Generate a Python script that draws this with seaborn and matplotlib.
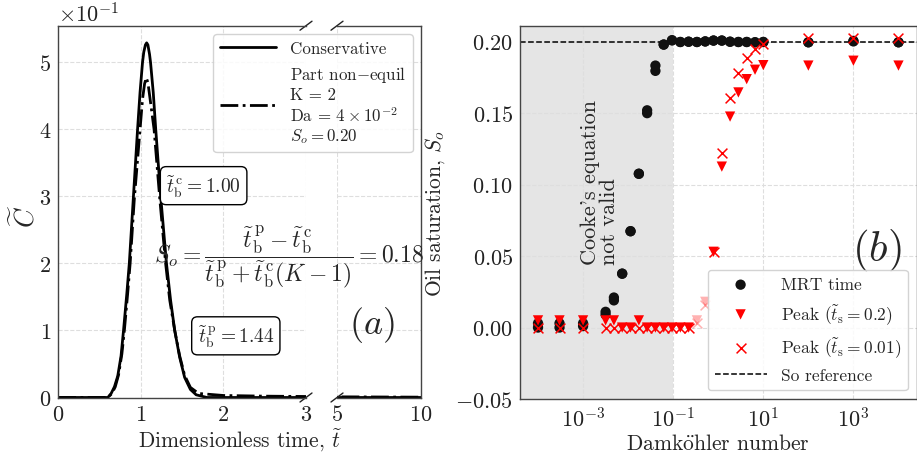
import numpy as np
import pandas as pd
import matplotlib
matplotlib.use("Agg")
import matplotlib.pyplot as plt
import seaborn as sns

# ---------------- panel (a) data ----------------
t_cons = [0.0, 0.60, 0.64, 0.68, 0.72, 0.76, 0.79, 0.83, 0.86, 0.91, 0.96, 0.99, 1.02, 1.035,
          1.055, 1.07, 1.085, 1.105, 1.117, 1.15, 1.18, 1.24, 1.31, 1.36, 1.41, 1.47, 1.53,
          1.60, 1.67, 1.80, 3.0, 5.0, 10.0]
c_cons = [0.0, 0.0, 0.006, 0.016, 0.032, 0.062, 0.100, 0.155, 0.200, 0.300, 0.400, 0.455,
          0.500, 0.515, 0.526, 0.529, 0.526, 0.512, 0.500, 0.455, 0.400, 0.300, 0.200, 0.145,
          0.100, 0.060, 0.030, 0.012, 0.004, 0.0, 0.0, 0.0, 0.0]

t_neq = [0.0, 0.60, 0.65, 0.69, 0.73, 0.77, 0.80, 0.84, 0.87, 0.92, 0.97, 0.99, 1.02, 1.045,
         1.065, 1.085, 1.11, 1.16, 1.23, 1.30, 1.35, 1.41, 1.47, 1.53, 1.60, 1.70, 2.00,
         2.50, 3.00, 5.00, 10.0]
c_neq = [0.0, 0.0, 0.006, 0.016, 0.034, 0.065, 0.100, 0.155, 0.200, 0.295, 0.370, 0.400,
         0.445, 0.468, 0.477, 0.470, 0.447, 0.400, 0.295, 0.200, 0.145, 0.100, 0.062, 0.033,
         0.015, 0.006, 0.003, 0.002, 0.0015, 0.001, 0.0005]

tb_c = 1.00
tb_p = 1.44
So_est = 0.18

# ---------------- panel (b) data ----------------
da = [1e-4, 3e-4, 1e-3, 0.00316, 0.00483, 0.00738, 0.0113, 0.0173, 0.0264, 0.0403, 0.0616,
      0.0942, 0.144, 0.220, 0.336, 0.514, 0.785, 1.20, 1.83, 2.80, 4.28, 6.55, 10.0,
      100.0, 1000.0, 10000.0]
mrt_a = [0.000, 0.000, 0.001, 0.009, 0.019, 0.0377, 0.0674, 0.1076, 0.150, 0.1796, 0.198,
         0.2010, 0.1998, 0.2000, 0.1998, 0.2002, 0.2008, 0.2008, 0.2000, 0.1998, 0.1998,
         0.1996, 0.1998, 0.1996, 0.2002, 0.1996]
mrt_b = [0.003, 0.003, 0.003, 0.011, 0.021, 0.0377, 0.0674, 0.1076, 0.152, 0.1833, 0.198,
         0.2010, 0.1998, 0.2000, 0.1998, 0.2002, 0.2008, 0.2008, 0.2000, 0.1998, 0.1998,
         0.1996, 0.1998, 0.1996, 0.2006, 0.1996]
peak_02 = [0.005, 0.005, 0.005, 0.005, 0.005, 0.0, 0.0, 0.005, 0.0, 0.0, 0.0, 0.0, 0.0, 0.0,
           0.005, 0.018, 0.053, 0.1126, 0.1476, 0.1645, 0.1738, 0.1804, 0.1836, 0.1833,
           0.1867, 0.1833]
peak_001 = [0.0, 0.0, 0.0, 0.0, 0.0, 0.0, 0.0, 0.0, 0.0, 0.0, 0.0, 0.0, 0.0, 0.0, 0.003,
            0.016, 0.053, 0.1219, 0.1603, 0.178, 0.1883, 0.1949, 0.1984, 0.2023, 0.2023,
            0.2023]
faded = [False] * 14 + [True, True] + [False] * 10
so_ref = 0.20
cooke_limit = 0.1
da_ticks = [1e-3, 1e-1, 1e1, 1e3]

# ---------------- style ----------------
sns.set_theme(style="whitegrid")
plt.rcParams.update({
    "font.family": ["cmr10", "DejaVu Serif"],
    "mathtext.fontset": "cm",
    "axes.formatter.use_mathtext": True,
    "axes.unicode_minus": True,
    "axes.edgecolor": "#444444",
    "axes.linewidth": 1.0,
    "grid.color": "#dedede",
    "grid.linestyle": "--",
    "grid.linewidth": 0.8,
    "xtick.labelsize": 16,
    "ytick.labelsize": 16,
    "xtick.major.size": 0,
    "ytick.major.size": 0,
    "xtick.minor.size": 0,
    "ytick.minor.size": 0,
    "xtick.major.pad": 5.0,
    "ytick.major.pad": 5.0,
    "xtick.color": "#222222",
    "ytick.color": "#222222",
    "axes.labelsize": 15.5,
    "legend.fontsize": 12.5,
})

W, H = 917, 456
fig = plt.figure(figsize=(W / 100, H / 100), dpi=100)

def rect(l, r, t, b):
    return [l / W, 1 - b / H, (r - l) / W, (b - t) / H]

ax1 = fig.add_axes(rect(58.3, 306, 26.7, 398.5))
ax2 = fig.add_axes(rect(337, 421, 26.7, 398.5))
ax3 = fig.add_axes(rect(520, 916.5, 26.7, 400))

# ---------------- panel (a) ----------------
for ax in (ax1, ax2):
    sns.lineplot(x=t_cons, y=c_cons, ax=ax, color="black", lw=2.0, sort=False,
                 estimator=None, label="Conservative")
    sns.lineplot(x=t_neq, y=c_neq, ax=ax, color="black", lw=2.0, ls="-.", sort=False,
                 estimator=None,
                 label="Part non$-$equil\nK = 2\nDa = $4\\times10^{-2}$\n$S_o = 0.20$")
    ax.set_ylim(0, 0.5546)
    ax.get_legend().remove()

ax1.set_xlim(0, 3)
ax2.set_xlim(5, 10)
ax1.set_xticks([0, 1, 2, 3])
ax2.set_xticks([5, 10])
ax1.set_yticks([0, 0.1, 0.2, 0.3, 0.4, 0.5])
ax2.set_yticks([0, 0.1, 0.2, 0.3, 0.4, 0.5])
ax1.ticklabel_format(axis="y", style="sci", scilimits=(0, 0), useMathText=True)
ax1.yaxis.get_offset_text().set_fontsize(16)
ax2.tick_params(axis="y", labelleft=False)
ax1.spines["right"].set_visible(False)
ax2.spines["left"].set_visible(False)
ax2.patch.set_alpha(0)

# break marks
d1x, d1y = 6 / 248, 4.5 / 372
kw = dict(color="#222222", lw=1.0, clip_on=False)
for yy in (0, 1):
    ax1.plot([1 - d1x, 1 + d1x], [yy - d1y, yy + d1y], transform=ax1.transAxes, **kw)
    d2x = 6 / 84
    ax2.plot([-d2x, d2x], [yy - d1y, yy + d1y], transform=ax2.transAxes, **kw)

ax1.set_ylabel(r"$\widetilde{C}$", fontsize=19)
ax1.yaxis.set_label_coords(-0.075, 0.49)
fig.text((58.3 + 421) / 2 / W, 1 - 440 / H, r"Dimensionless time, $\widetilde{t}$",
         ha="center", va="center", fontsize=15.5)

h, l = ax1.get_legend_handles_labels()
ax2.legend(h, l, loc="upper right", handlelength=3.3, fontsize=12.2, framealpha=0.85,
           edgecolor="#cccccc", labelspacing=0.45)

box = dict(boxstyle="round,pad=0.3", fc="white", ec="black", lw=1.0)
ax1.text(1.76, 0.316, r"$\widetilde{t}^{\,\mathrm{c}}_{\mathrm{b}} = %.2f$" % tb_c,
         ha="center", va="center", fontsize=14, bbox=box)
ax1.text(2.15, 0.092, r"$\widetilde{t}^{\,\mathrm{p}}_{\mathrm{b}} = %.2f$" % tb_p,
         ha="center", va="center", fontsize=14, bbox=box)
fig.text(2.79, 0.211,
         r"$S_o = \dfrac{\widetilde{t}^{\,\mathrm{p}}_{\mathrm{b}} - \widetilde{t}^{\,\mathrm{c}}_{\mathrm{b}}}"
         r"{\widetilde{t}^{\,\mathrm{p}}_{\mathrm{b}} + \widetilde{t}^{\,\mathrm{c}}_{\mathrm{b}}(K-1)} = %.2f$" % So_est,
         transform=ax1.transData, ha="center", va="center", fontsize=17)
ax2.text(7.1, 0.109, r"$(a)$", ha="center", va="center", fontsize=26)

# ---------------- panel (b) ----------------
df = pd.DataFrame({"da": da, "mrt_a": mrt_a, "mrt_b": mrt_b, "p02": peak_02,
                   "p001": peak_001, "faded": faded})
ax3.set_xscale("log")
ax3.axvspan(1e-5, cooke_limit, color="gray", alpha=0.2, lw=0, zorder=0)
ax3.axhline(so_ref, color="black", ls="--", lw=1.1, zorder=1, label="So reference")

sns.scatterplot(data=df, x="da", y="mrt_a", ax=ax3, color="#111111", s=55, marker="o",
                edgecolor="none", zorder=3, label="MRT time")
sns.scatterplot(data=df, x="da", y="mrt_b", ax=ax3, color="#111111", s=55, marker="o",
                edgecolor="none", zorder=3)
sol = df[~df["faded"]]
fad = df[df["faded"]]
sns.scatterplot(data=sol, x="da", y="p02", ax=ax3, color="red", s=55, marker="v",
                edgecolor="none", zorder=4, label=r"Peak ($\widetilde{t}_{\mathrm{s}} = 0.2$)")
sns.scatterplot(data=fad, x="da", y="p02", ax=ax3, color="red", s=55, marker="v",
                edgecolor="none", alpha=0.3, zorder=4)
sns.scatterplot(data=sol, x="da", y="p001", ax=ax3, color="red", s=50, marker="x",
                linewidth=1.1, zorder=5, label=r"Peak ($\widetilde{t}_{\mathrm{s}} = 0.01$)")
sns.scatterplot(data=fad, x="da", y="p001", ax=ax3, color="red", s=50, marker="x",
                linewidth=1.1, alpha=0.3, zorder=5)

ax3.set_xlim(10 ** -4.4, 10 ** 4.4)
ax3.set_ylim(-0.05, 0.2112)
ax3.set_xticks(da_ticks)
ax3.xaxis.set_minor_locator(matplotlib.ticker.NullLocator())
ax3.set_yticks([-0.05, 0.0, 0.05, 0.10, 0.15, 0.20])
ax3.yaxis.set_major_formatter(matplotlib.ticker.FormatStrFormatter("$%.2f$"))
ax3.set_xlabel("Damk$\\ddot{\\mathrm{o}}$hler number", fontsize=15.5, labelpad=2)
ax3.set_ylabel("Oil saturation, $S_o$", fontsize=15.5, labelpad=6)

h3, l3 = ax3.get_legend_handles_labels()
order = [l3.index("MRT time"), l3.index(r"Peak ($\widetilde{t}_{\mathrm{s}} = 0.2$)"),
         l3.index(r"Peak ($\widetilde{t}_{\mathrm{s}} = 0.01$)"), l3.index("So reference")]
ax3.legend([h3[i] for i in order], [l3[i] for i in order], loc="lower right",
           handlelength=3.0, fontsize=12.5, framealpha=0.85, edgecolor="#cccccc")

ax3.text(10 ** -2.63, 0.102, "Cooke's equation\nnot valid", rotation=90, ha="center",
         va="center", multialignment="left", linespacing=1.0, fontsize=16)
ax3.text(10 ** 3.53, 0.0545, r"$(b)$", ha="center", va="center", fontsize=31)

fig.savefig("out.png", dpi=100)
